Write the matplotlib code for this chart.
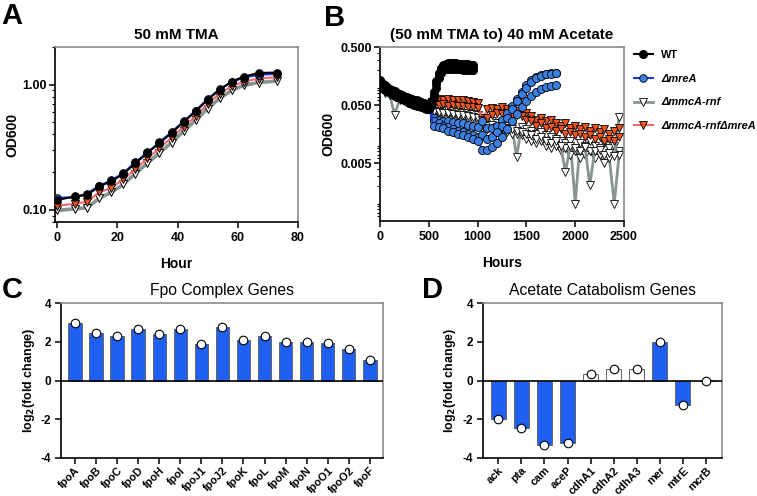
import matplotlib
matplotlib.use("Agg")
import matplotlib.pyplot as plt
from matplotlib.lines import Line2D
from matplotlib.ticker import FixedLocator, FixedFormatter, LogLocator, NullFormatter

plt.rcParams['font.family'] = ['Liberation Sans', 'DejaVu Sans']
plt.rcParams['axes.unicode_minus'] = False

# ---------------- Panel A data: 50 mM TMA ----------------
hours_a = [0, 6, 10, 14, 18, 22, 26, 30, 34, 38, 42, 46, 50, 54, 58, 62, 67, 73]
a_wt = [0.120, 0.128, 0.132, 0.154, 0.169, 0.194, 0.236, 0.284, 0.342, 0.411, 0.503, 0.611, 0.759, 0.912, 1.06, 1.16, 1.24, 1.25]
a_mrea = [0.125, 0.126, 0.135, 0.156, 0.172, 0.197, 0.240, 0.288, 0.348, 0.418, 0.510, 0.620, 0.770, 0.920, 1.05, 1.14, 1.20, 1.22]
a_rnf = [0.099, 0.102, 0.104, 0.124, 0.138, 0.160, 0.195, 0.236, 0.285, 0.345, 0.425, 0.520, 0.645, 0.780, 0.90, 0.99, 1.04, 1.07]
a_dbl = [0.108, 0.112, 0.116, 0.138, 0.150, 0.176, 0.212, 0.258, 0.312, 0.378, 0.460, 0.560, 0.700, 0.850, 0.97, 1.06, 1.12, 1.15]

# ---------------- Panel B data: (50 mM TMA to) 40 mM Acetate ----------------
hours_wt_b = [0, 25, 50, 75, 100, 125, 150, 175, 200, 225, 250, 275, 300, 325, 350, 375, 400,
              425, 450, 475, 500, 525, 550, 575, 600, 625, 650, 675, 700, 725, 750, 775, 800,
              825, 850, 875, 900, 925, 950]
b_wt_1 = [0.135, 0.12, 0.11, 0.102, 0.096, 0.09, 0.086, 0.082, 0.078, 0.075, 0.072, 0.069, 0.066,
          0.064, 0.062, 0.06, 0.058, 0.056, 0.054, 0.052, 0.05, 0.058, 0.085, 0.13, 0.18, 0.22,
          0.245, 0.255, 0.26, 0.262, 0.262, 0.26, 0.258, 0.257, 0.255, 0.253, 0.25, 0.248, 0.245]
b_wt_2 = [0.12, 0.108, 0.1, 0.093, 0.087, 0.082, 0.078, 0.074, 0.071, 0.068, 0.065, 0.062, 0.06,
          0.058, 0.056, 0.054, 0.052, 0.05, 0.049, 0.047, 0.045, 0.052, 0.075, 0.115, 0.16, 0.2,
          0.22, 0.23, 0.232, 0.233, 0.232, 0.23, 0.229, 0.228, 0.226, 0.225, 0.223, 0.221, 0.22]
b_wt_3 = [0.11, 0.1, 0.092, 0.086, 0.08, 0.076, 0.072, 0.069, 0.066, 0.063, 0.06, 0.058, 0.055,
          0.053, 0.051, 0.049, 0.048, 0.046, 0.045, 0.043, 0.042, 0.048, 0.068, 0.1, 0.145, 0.18,
          0.198, 0.205, 0.208, 0.21, 0.209, 0.208, 0.207, 0.205, 0.204, 0.203, 0.201, 0.2, 0.198]

hours_mrea_b = [0, 50, 100, 150, 200, 250, 300, 350, 400, 450, 500, 550, 600, 650, 700, 750, 800,
                850, 900, 950, 1000, 1050, 1100, 1150, 1200, 1250, 1300, 1350, 1400, 1450, 1500,
                1550, 1600, 1650, 1700, 1750, 1800]
b_mrea_1 = [0.12, 0.1, 0.09, 0.082, 0.075, 0.07, 0.065, 0.061, 0.057, 0.053, 0.05, 0.03, 0.028,
            0.027, 0.026, 0.025, 0.024, 0.024, 0.023, 0.022, 0.021, 0.027, 0.02, 0.02, 0.022, 0.028,
            0.036, 0.048, 0.064, 0.085, 0.11, 0.135, 0.152, 0.165, 0.172, 0.178, 0.18]
b_mrea_2 = [0.115, 0.097, 0.087, 0.079, 0.072, 0.067, 0.062, 0.058, 0.054, 0.05, 0.046, 0.026, 0.024,
            0.022, 0.021, 0.019, 0.018, 0.017, 0.016, 0.015, 0.014, 0.015, 0.013, 0.014, 0.017, 0.022,
            0.03, 0.042, 0.058, 0.078, 0.1, 0.125, 0.145, 0.16, 0.168, 0.172, 0.175]
b_mrea_3 = [0.11, 0.094, 0.084, 0.076, 0.07, 0.064, 0.06, 0.056, 0.052, 0.047, 0.043, 0.022, 0.021,
            0.02, 0.018, 0.017, 0.016, 0.015, 0.014, 0.013, 0.012, 0.0084, 0.0085, 0.0095, 0.011, 0.014,
            0.019, 0.026, 0.035, 0.046, 0.058, 0.072, 0.085, 0.095, 0.102, 0.106, 0.11]

hours_long_b = [0, 50, 100, 150, 200, 250, 300, 350, 400, 450, 500, 550, 600, 650, 700, 750, 800,
                850, 900, 950, 1000, 1050, 1100, 1150, 1200, 1250, 1300, 1350, 1400, 1450, 1500,
                1550, 1600, 1650, 1700, 1750, 1800, 1850, 1900, 1950, 2000, 2050, 2100, 2150, 2200,
                2250, 2300, 2350, 2400, 2450]
b_rnf_1 = [0.105, 0.09, 0.08, 0.072, 0.066, 0.062, 0.058, 0.055, 0.052, 0.049, 0.046, 0.044, 0.042,
           0.04, 0.041, 0.039, 0.038, 0.037, 0.036, 0.035, 0.033, 0.026, 0.025, 0.026, 0.024, 0.025,
           0.023, 0.022, 0.0064, 0.021, 0.019, 0.018, 0.016, 0.017, 0.015, 0.014, 0.013, 0.012, 0.011,
           0.012, 0.001, 0.011, 0.01, 0.012, 0.01, 0.009, 0.011, 0.009, 0.01, 0.008]
b_rnf_2 = [0.095, 0.082, 0.074, 0.034, 0.062, 0.058, 0.054, 0.051, 0.048, 0.045, 0.042, 0.036, 0.035,
           0.034, 0.033, 0.032, 0.031, 0.03, 0.029, 0.028, 0.027, 0.02, 0.019, 0.02, 0.018, 0.019,
           0.017, 0.016, 0.016, 0.015, 0.013, 0.012, 0.011, 0.012, 0.01, 0.009, 0.01, 0.008, 0.009,
           0.007, 0.008, 0.006, 0.007, 0.008, 0.006, 0.007, 0.005, 0.006, 0.001, 0.007]
b_rnf_3 = [0.1, 0.086, 0.077, 0.07, 0.064, 0.06, 0.056, 0.053, 0.05, 0.047, 0.044, 0.04, 0.038,
           0.037, 0.036, 0.035, 0.034, 0.033, 0.032, 0.031, 0.03, 0.023, 0.022, 0.023, 0.021, 0.02,
           0.02, 0.019, 0.018, 0.017, 0.016, 0.015, 0.013, 0.014, 0.012, 0.011, 0.012, 0.01, 0.0035,
           0.01, 0.009, 0.008, 0.0095, 0.0021, 0.008, 0.0085, 0.007, 0.0075, 0.0065, 0.031]
b_dbl_1 = [0.11, 0.095, 0.085, 0.077, 0.07, 0.066, 0.062, 0.058, 0.055, 0.052, 0.05, 0.062, 0.064,
           0.06, 0.063, 0.061, 0.06, 0.062, 0.058, 0.057, 0.055, 0.03, 0.042, 0.045, 0.043, 0.046,
           0.042, 0.044, 0.04, 0.042, 0.036, 0.032, 0.028, 0.03, 0.026, 0.028, 0.024, 0.022, 0.024,
           0.02, 0.022, 0.019, 0.021, 0.018, 0.02, 0.017, 0.019, 0.016, 0.018, 0.02]
b_dbl_2 = [0.1, 0.088, 0.079, 0.072, 0.066, 0.062, 0.058, 0.055, 0.052, 0.049, 0.046, 0.052, 0.05,
           0.052, 0.049, 0.05, 0.048, 0.049, 0.047, 0.046, 0.045, 0.028, 0.03, 0.034, 0.036, 0.035,
           0.037, 0.034, 0.033, 0.032, 0.028, 0.026, 0.022, 0.024, 0.02, 0.021, 0.018, 0.019, 0.016,
           0.017, 0.015, 0.016, 0.014, 0.015, 0.013, 0.014, 0.012, 0.013, 0.012, 0.014]

# ---------------- Panel C data: Fpo complex genes ----------------
fpo_genes = ['fpoA', 'fpoB', 'fpoC', 'fpoD', 'fpoH', 'fpoI', 'fpoJ1', 'fpoJ2', 'fpoK', 'fpoL',
             'fpoM', 'fpoN', 'fpoO1', 'fpoO2', 'fpoF']
fpo_log2fc = [2.95, 2.45, 2.29, 2.66, 2.42, 2.67, 1.88, 2.75, 2.07, 2.31, 2.01, 2.01, 1.92, 1.61, 1.08]

# ---------------- Panel D data: Acetate catabolism genes ----------------
ace_genes = ['ack', 'pta', 'cam', 'aceP', 'cdhA1', 'cdhA2', 'cdhA3', 'mer', 'mtrE', 'mcrB']
ace_log2fc = [-1.97, -2.46, -3.33, -3.22, 0.34, 0.57, 0.60, 2.01, -1.29, 0.0]
ace_significant = [True, True, True, True, False, False, False, True, True, False]

# ---------------- styling ----------------
W, H = 757, 496
BLUE_BAR = '#1f5ff2'
C_WT = 'black'
C_MREA_LINE = '#1838e8'
C_MREA_FACE = '#3b7fe0'
C_RNF_LINE = '#86958f'
C_DBL_LINE = '#f06670'
C_DBL_FACE = '#f0561c'
GRAY_SPINE = '#8a8a8a'
TICK_FS = 9


def rect(l, t, r, b):
    return [l / W, 1 - b / H, (r - l) / W, (b - t) / H]


def style_spines(ax):
    for s in ['left', 'bottom']:
        ax.spines[s].set_color('black')
        ax.spines[s].set_linewidth(1.2)
    for s in ['top', 'right']:
        ax.spines[s].set_color(GRAY_SPINE)
        ax.spines[s].set_linewidth(1.2)
    ax.tick_params(which='major', direction='out', length=4, width=1.1, colors='black',
                   labelsize=TICK_FS, top=False, right=False)
    ax.tick_params(which='minor', direction='out', length=2.2, width=0.8, colors='black',
                   top=False, right=False)
    ax.tick_params(axis='y', which='major', pad=2)
    for lab in ax.get_xticklabels() + ax.get_yticklabels():
        lab.set_fontweight('bold')


fig = plt.figure(figsize=(W / 100, H / 100), dpi=100)

# ---------------- Panel A ----------------
axA = fig.add_axes(rect(55, 47, 298, 222))
axA.set_yscale('log')
axA.plot(hours_a, a_rnf, color=C_RNF_LINE, lw=2.6, marker='v', ms=5.5, mfc='white',
         mec='black', mew=0.7, zorder=2)
axA.plot(hours_a, a_dbl, color=C_DBL_LINE, lw=1.5, marker='v', ms=5.5, mfc=C_DBL_FACE,
         mec='black', mew=0.7, zorder=3)
axA.plot(hours_a, a_mrea, color=C_MREA_LINE, lw=1.5, marker='o', ms=5.5, mfc=C_MREA_FACE,
         mec='black', mew=0.7, zorder=4)
axA.plot(hours_a, a_wt, color=C_WT, lw=1.5, marker='o', ms=5.5, mfc='black',
         mec='black', mew=0.7, zorder=5)
axA.set_xlim(-0.7, 80)
axA.set_ylim(0.08, 2.0)
axA.set_xticks([0, 20, 40, 60, 80])
axA.yaxis.set_major_locator(FixedLocator([0.1, 1.0]))
axA.yaxis.set_major_formatter(FixedFormatter(['0.10', '1.00']))
axA.yaxis.set_minor_locator(LogLocator(base=10, subs=[2, 3, 4, 5, 6, 7, 8, 9]))
axA.yaxis.set_minor_formatter(NullFormatter())
style_spines(axA)
axA.set_title('50 mM TMA', fontsize=11, fontweight='bold', pad=6)
axA.set_ylabel('OD600', fontsize=10, fontweight='bold')
axA.yaxis.set_label_coords(-0.148, 0.5)
axA.set_xlabel('Hour', fontsize=10, fontweight='bold')
axA.xaxis.set_label_coords(0.5, -0.2)

# ---------------- Panel B ----------------
axB = fig.add_axes(rect(380, 47, 624, 221))
axB.set_yscale('log')
ms_b = 5.8
for vals in (b_rnf_1, b_rnf_2, b_rnf_3):
    axB.plot(hours_long_b, vals, color=C_RNF_LINE, lw=2.0, marker='v', ms=ms_b, mfc='white',
             mec='black', mew=0.6, zorder=2)
for vals in (b_dbl_1, b_dbl_2):
    axB.plot(hours_long_b, vals, color=C_DBL_LINE, lw=1.2, marker='v', ms=ms_b, mfc=C_DBL_FACE,
             mec='black', mew=0.6, zorder=3)
for vals in (b_mrea_1, b_mrea_2, b_mrea_3):
    axB.plot(hours_mrea_b, vals, color=C_MREA_LINE, lw=1.2, marker='o', ms=ms_b, mfc=C_MREA_FACE,
             mec='black', mew=0.6, zorder=4)
for vals in (b_wt_1, b_wt_2, b_wt_3):
    axB.plot(hours_wt_b, vals, color=C_WT, lw=1.2, marker='o', ms=ms_b, mfc='black',
             mec='black', mew=0.6, zorder=5)
axB.set_xlim(0, 2500)
axB.set_ylim(0.0005, 0.5)
axB.set_xticks([0, 500, 1000, 1500, 2000, 2500])
axB.yaxis.set_major_locator(FixedLocator([0.005, 0.05, 0.5]))
axB.yaxis.set_major_formatter(FixedFormatter(['0.005', '0.050', '0.500']))
axB.yaxis.set_minor_locator(LogLocator(base=10, subs=[1, 2, 3, 4, 6, 7, 8, 9]))
axB.yaxis.set_minor_formatter(NullFormatter())
axB.xaxis.set_minor_locator(FixedLocator([]))
style_spines(axB)
axB.set_title('(50 mM TMA to) 40 mM Acetate', fontsize=11, fontweight='bold', pad=6)
axB.set_ylabel('OD600', fontsize=10, fontweight='bold')
axB.yaxis.set_label_coords(-0.184, 0.5)
axB.set_xlabel('Hours', fontsize=10, fontweight='bold')
axB.xaxis.set_label_coords(0.5, -0.2)

handles = [
    Line2D([], [], color=C_WT, lw=1.5, marker='o', ms=5.5, mfc='black', mec='black'),
    Line2D([], [], color=C_MREA_LINE, lw=1.5, marker='o', ms=5.5, mfc=C_MREA_FACE, mec='black', mew=0.6),
    Line2D([], [], color=C_RNF_LINE, lw=2.0, marker='v', ms=5.5, mfc='white', mec='black', mew=0.6),
    Line2D([], [], color=C_DBL_LINE, lw=1.5, marker='v', ms=5.5, mfc=C_DBL_FACE, mec='black', mew=0.6),
]
labels = ['WT', '\u0394mreA', '\u0394mmcA-rnf', '\u0394mmcA-rnf\u0394mreA']
leg = fig.legend(handles, labels, loc='upper left', bbox_to_anchor=(634 / W, 1 - 50 / H),
                 frameon=False, fontsize=7.9, handlelength=1.7, handletextpad=0.75,
                 labelspacing=1.25, borderpad=0, borderaxespad=0)
for i, t in enumerate(leg.get_texts()):
    t.set_fontweight('bold')
    if i > 0:
        t.set_fontstyle('italic')

# ---------------- Panel C ----------------
axC = fig.add_axes(rect(61, 303, 383, 458))
xc = list(range(len(fpo_genes)))
axC.bar(xc, fpo_log2fc, width=0.63, color=BLUE_BAR, edgecolor='#666666', linewidth=0.7, zorder=2)
axC.scatter(xc, fpo_log2fc, s=38, c='white', edgecolors='black', linewidths=0.8, zorder=4)
axC.axhline(0, color='black', lw=1.2, zorder=3)
axC.set_xlim(-0.66, len(fpo_genes) - 0.38)
axC.set_ylim(-4, 4)
axC.set_yticks([-4, -2, 0, 2, 4])
axC.set_xticks(xc)
axC.set_xticklabels(fpo_genes, rotation=45, ha='right', rotation_mode='anchor')
style_spines(axC)
axC.tick_params(axis='x', labelsize=7.9, pad=1.2)
axC.tick_params(axis='y', labelsize=8.5, pad=3)
axC.set_title('Fpo Complex Genes', fontsize=11.3, pad=6)
axC.set_ylabel('log$_\\mathbf{2}$(fold change)', fontsize=9, fontweight='bold')
axC.yaxis.set_label_coords(-0.075, 0.5)

# ---------------- Panel D ----------------
axD = fig.add_axes(rect(483, 303, 722, 458))
xd = list(range(len(ace_genes)))
d_colors = [BLUE_BAR if sig else 'white' for sig in ace_significant]
axD.bar(xd, ace_log2fc, width=0.65, color=d_colors, edgecolor='#666666', linewidth=0.7, zorder=2)
axD.scatter(xd, ace_log2fc, s=38, c='white', edgecolors='black', linewidths=0.8, zorder=4)
axD.axhline(0, color='black', lw=1.2, zorder=3)
axD.set_xlim(-0.66, len(ace_genes) - 0.31)
axD.set_ylim(-4, 4)
axD.set_yticks([-4, -2, 0, 2, 4])
axD.set_xticks(xd)
axD.set_xticklabels(ace_genes, rotation=45, ha='right', rotation_mode='anchor')
style_spines(axD)
axD.tick_params(axis='x', labelsize=7.9, pad=1.2)
axD.tick_params(axis='y', labelsize=8.5, pad=3)
axD.set_title('Acetate Catabolism Genes', fontsize=11.3, pad=6)
axD.set_ylabel('log$_\\mathbf{2}$(fold change)', fontsize=9, fontweight='bold')
axD.yaxis.set_label_coords(-0.105, 0.5)

# ---------------- Panel letters ----------------
for letter, x, y in (('A', 1, 2), ('B', 324, 4), ('C', 2, 276), ('D', 422, 276)):
    fig.text(x / W, 1 - y / H, letter, fontsize=21, fontweight='bold', va='top', ha='left')

fig.savefig('out.png', dpi=100)
